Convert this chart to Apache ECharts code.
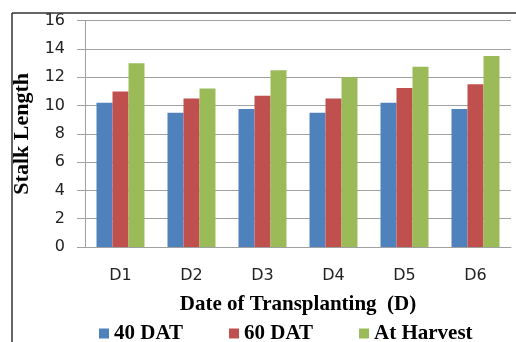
<!DOCTYPE html>
<html><head><meta charset="utf-8">
<script src="https://cdn.jsdelivr.net/npm/echarts@6/dist/echarts.min.js"></script>
<style>html,body{margin:0;padding:0;background:#fff}#c{width:516px;height:342px}</style>
</head><body><div id="c"></div>
<script>
var categories = ['D1','D2','D3','D4','D5','D6'];
var dat40 = [10.2, 9.5, 9.75, 9.5, 10.2, 9.75];
var dat60 = [11.0, 10.5, 10.7, 10.5, 11.25, 11.5];
var harvest = [13.0, 11.2, 12.5, 12.0, 12.75, 13.5];
var seriesNames = ['40 DAT','60 DAT','At Harvest'];
var yTicks = {min:0, max:16, interval:2};

var chart = echarts.init(document.getElementById('c'), null, {renderer:'canvas'});
var serif = '"Liberation Serif", "Times New Roman", serif';
var sans = '"DejaVu Sans", sans-serif';
chart.setOption({
  animation:false,
  backgroundColor:'#fff',
  grid:{left:85, right:5, top:20.7, bottom:95, containLabel:false},
  legend:{
    data:seriesNames, top:323, left:99, padding:0, icon:'rect', itemWidth:10, itemHeight:10, itemGap:46,
    textStyle:{fontFamily:serif, fontWeight:'bold', fontSize:21, color:'#000'}
  },
  xAxis:{
    type:'category', data:categories,
    axisLine:{show:true, lineStyle:{color:'#a0a0a0', width:1}},
    axisTick:{show:false},
    axisLabel:{fontFamily:sans, fontSize:16, color:'#222', margin:21},
    name:'Date of Transplanting  (D)', nameLocation:'middle', nameGap:47,
    nameTextStyle:{fontFamily:serif, fontWeight:'bold', fontSize:21, color:'#000'}
  },
  yAxis:{
    type:'value', min:yTicks.min, max:yTicks.max, interval:yTicks.interval,
    axisLine:{show:true, lineStyle:{color:'#a0a0a0', width:1}},
    axisTick:{show:true, length:8, lineStyle:{color:'#a0a0a0'}},
    splitLine:{show:true, lineStyle:{color:'#a0a0a0', width:1}},
    axisLabel:{fontFamily:sans, fontSize:16, color:'#222', margin:20},
    name:'Stalk Length', nameLocation:'middle', nameGap:51,
    nameTextStyle:{fontFamily:serif, fontWeight:'bold', fontSize:22, color:'#000'}
  },
  series:[
    {name:seriesNames[0], type:'bar', data:dat40, barWidth:16, barGap:'0%', itemStyle:{color:'#4F81BD'}},
    {name:seriesNames[1], type:'bar', data:dat60, barWidth:16, barGap:'0%', itemStyle:{color:'#C0504D'}},
    {name:seriesNames[2], type:'bar', data:harvest, barWidth:16, barGap:'0%', itemStyle:{color:'#9BBB59'}}
  ],
  graphic:[
    {type:'line', shape:{x1:12, y1:13, x2:516, y2:13}, style:{stroke:'#333', lineWidth:1.5}, z:100},
    {type:'line', shape:{x1:12, y1:13, x2:12, y2:342}, style:{stroke:'#333', lineWidth:1.5}, z:100}
  ]
});
</script></body></html>
